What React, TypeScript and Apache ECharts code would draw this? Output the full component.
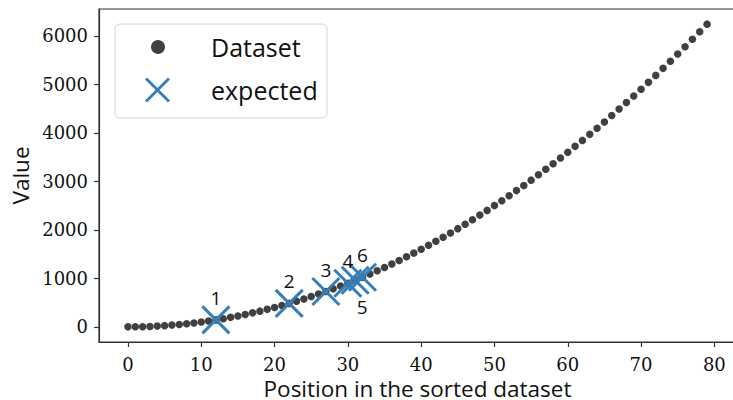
import React, { useEffect, useRef } from "react";
import * as echarts from "echarts";

// Sorted dataset: value at each position 0..79
const datasetValues = [
  0, 1, 4, 9, 16, 25, 36, 49, 64, 81,
  100, 121, 144, 169, 196, 225, 256, 289, 324, 361,
  400, 441, 484, 529, 576, 625, 676, 729, 784, 841,
  900, 961, 1024, 1089, 1156, 1225, 1296, 1369, 1444, 1521,
  1600, 1681, 1764, 1849, 1936, 2025, 2116, 2209, 2304, 2401,
  2500, 2601, 2704, 2809, 2916, 3025, 3136, 3249, 3364, 3481,
  3600, 3721, 3844, 3969, 4096, 4225, 4356, 4489, 4624, 4761,
  4900, 5041, 5184, 5329, 5476, 5625, 5776, 5929, 6084, 6241,
];

// Expected positions, their values and their numbered labels
const expectedPositions = [12, 22, 27, 30, 31, 32];
const expectedValues = [144, 484, 729, 900, 961, 1024];
const expectedLabels = ["1", "2", "3", "4", "5", "6"];

const xTicks = [0, 10, 20, 30, 40, 50, 60, 70, 80];
const yTicks = [0, 1000, 2000, 3000, 4000, 5000, 6000];

const DOT = "#404040";
const BLUE = "#377eb8";
const INK = "#111111";
const SPINE = "#333333";
const SERIF = "'DejaVu Serif', serif";
const SANS = "'Open Sans', 'Noto Sans', sans-serif";

export default function App() {
  const ref = useRef<HTMLDivElement>(null);

  useEffect(() => {
    if (!ref.current) return;
    const chart = echarts.init(ref.current, undefined, { renderer: "svg" });

    const axisCommon = {
      axisLine: { show: true, onZero: false, lineStyle: { color: SPINE, width: 1.2 } },
      axisTick: { show: true, length: 5, lineStyle: { color: SPINE, width: 1.2 } },
      splitLine: { show: false },
      nameMoveOverlap: false,
      nameTextStyle: { fontFamily: SANS, fontSize: 22.5, fontWeight: 500, color: INK, lineHeight: 22 },
    };

    const tickLabel = {
      fontFamily: SERIF,
      fontSize: 18,
      color: INK,
      lineHeight: 20,
      formatter: (v: number) => String(v),
    };

    chart.setOption({
      animation: false,
      backgroundColor: "#ffffff",
      grid: {
        left: 99,
        right: -3,
        top: 9,
        bottom: 58,
        outerBoundsMode: "none",
        containLabel: false,
        show: true,
        borderColor: SPINE,
        borderWidth: 1.2,
        backgroundColor: "transparent",
      },
      xAxis: {
        type: "value",
        min: -3.95,
        max: 82.95,
        name: "Position in the sorted dataset",
        nameLocation: "middle",
        nameGap: 35,
        ...axisCommon,
        axisTick: { ...axisCommon.axisTick, customValues: xTicks },
        axisLabel: { ...tickLabel, customValues: xTicks, margin: 12 },
      },
      yAxis: {
        type: "value",
        min: -312,
        max: 6553,
        name: "Value",
        nameLocation: "middle",
        nameGap: 68,
        ...axisCommon,
        axisTick: { ...axisCommon.axisTick, customValues: yTicks },
        axisLabel: { ...tickLabel, customValues: yTicks, margin: 11 },
      },
      series: [
        {
          name: "Dataset",
          type: "scatter",
          symbol: "circle",
          symbolSize: 7.5,
          itemStyle: { color: DOT, opacity: 1 },
          data: datasetValues.map((v, i) => [i, v]),
          z: 2,
        },
        {
          name: "expected",
          type: "scatter",
          symbol: "path://M0,0L10,10M10,0L0,10",
          symbolSize: 27,
          itemStyle: { color: "none", borderColor: BLUE, borderWidth: 3, opacity: 1 },
          z: 3,
          data: expectedPositions.map((x, i) => ({
            value: [x, expectedValues[i]],
            label: {
              show: true,
              formatter: expectedLabels[i],
              position: "inside",
              offset: i === 4 ? [7, 27] : [0, -22],
              fontFamily: SANS,
              fontSize: 19,
              fontWeight: 500,
              color: INK,
            },
          })),
        },
      ],
      graphic: [
        {
          type: "rect",
          shape: { x: 115, y: 24, width: 212, height: 94, r: 5 },
          style: { fill: "rgba(255,255,255,0.85)", stroke: "#d4d4d4", lineWidth: 1 },
          z: 10,
        },
        {
          type: "circle",
          shape: { cx: 158, cy: 47, r: 7 },
          style: { fill: DOT },
          z: 11,
        },
        {
          type: "line",
          shape: { x1: 146, y1: 78.5, x2: 169, y2: 101.5 },
          style: { stroke: BLUE, lineWidth: 2.8 },
          z: 11,
        },
        {
          type: "line",
          shape: { x1: 169, y1: 78.5, x2: 146, y2: 101.5 },
          style: { stroke: BLUE, lineWidth: 2.8 },
          z: 11,
        },
        {
          type: "text",
          x: 211,
          y: 47,
          style: {
            text: "Dataset",
            fontFamily: SANS,
            fontSize: 25,
            fontWeight: 500,
            fill: INK,
            verticalAlign: "middle",
          },
          z: 11,
        },
        {
          type: "text",
          x: 211,
          y: 90,
          style: {
            text: "expected",
            fontFamily: SANS,
            fontSize: 25,
            fontWeight: 500,
            fill: INK,
            verticalAlign: "middle",
          },
          z: 11,
        },
      ],
    });

    return () => chart.dispose();
  }, []);

  return (
    <div
      ref={ref}
      style={{ position: "absolute", left: 0, top: 0, width: 733, height: 400, background: "#fff" }}
    />
  );
}
